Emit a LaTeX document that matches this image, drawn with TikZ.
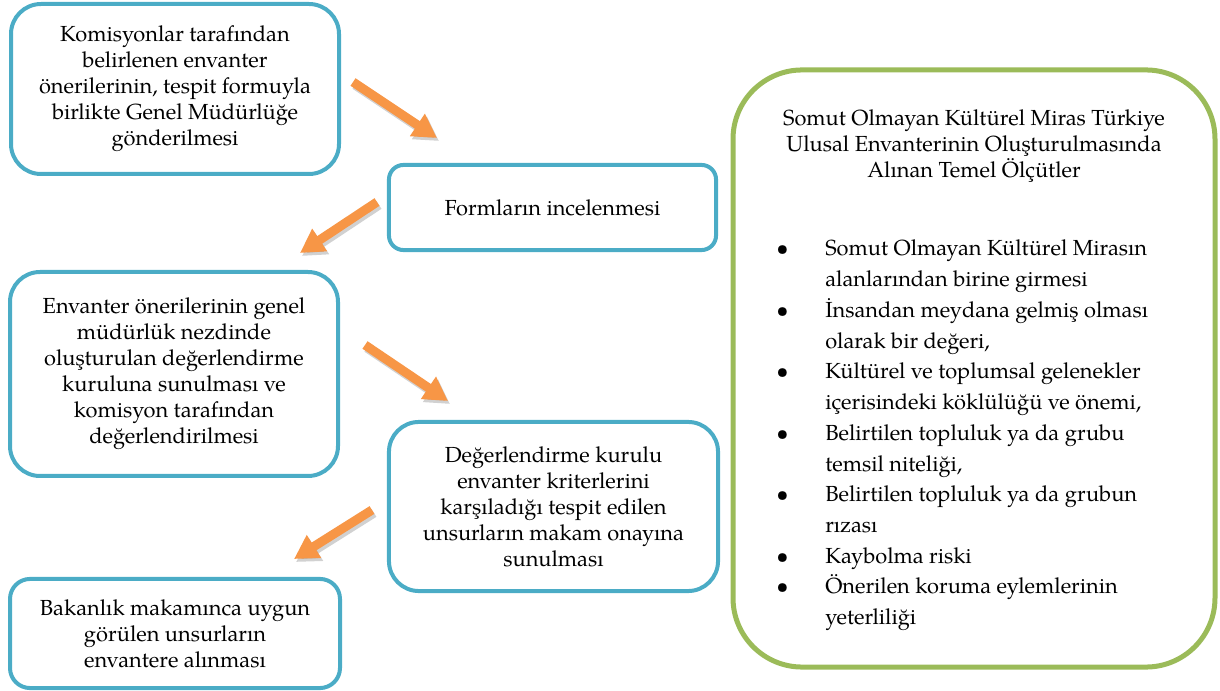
\documentclass[tikz,border=0pt]{standalone}
\usepackage{fontspec}
\setmainfont{TeX Gyre Pagella}
\usepackage{tikz}
\usetikzlibrary{arrows.meta}
\definecolor{boxblue}{HTML}{4BACC6}
\definecolor{boxgreen}{HTML}{9BBB59}
\definecolor{arroworange}{HTML}{F79646}

\begin{document}
\begin{tikzpicture}[x=0.55pt,y=-0.55pt,
  stepbox/.style={draw=boxblue, line width=2.2pt, rounded corners=16.5pt, align=center, inner sep=0pt, font=\fontsize{12}{14.3}\selectfont},
  flowarrow/.style={draw=arroworange, line width=5pt, -{Triangle[length=13pt,width=14pt]}},
  flowshadow/.style={draw=black, opacity=0.18, line width=5pt, -{Triangle[length=13pt,width=14pt]}}]
\useasboundingbox (0,0) rectangle (1220,691);

\node (b1) [stepbox, minimum width=180.4pt, minimum height=93.5pt] at (175,89) {Komisyonlar tarafından\\belirlenen envanter\\önerilerinin, tespit formuyla\\birlikte Genel Müdürlüğe\\gönderilmesi};
\node (b2) [stepbox, rounded corners=8pt, minimum width=179.9pt, minimum height=46.8pt] at (552.5,207.5) {Formların incelenmesi};
\node (b3) [stepbox, minimum width=180.4pt, minimum height=112.2pt] at (174,374) {Envanter önerilerinin genel\\müdürlük nezdinde\\oluşturulan değerlendirme\\kuruluna sunulması ve\\komisyon tarafından\\değerlendirilmesi};
\node (b4) [stepbox, minimum width=181pt, minimum height=93pt] at (553.5,506.5) {Değerlendirme kurulu\\envanter kriterlerini\\karşıladığı tespit edilen\\unsurların makam onayına\\sunulması};
\node (b5) [stepbox, rounded corners=11pt, minimum width=181.5pt, minimum height=60pt] at (175,633.5) {Bakanlık makamınca uygun\\görülen unsurların\\envantere alınması};

\node (crit) [draw=boxgreen, line width=2.75pt, rounded corners=38pt, minimum width=265.1pt, minimum height=328.4pt] at (974,368.5) {};
\node (crittitle) [align=center, font=\fontsize{12}{14.3}\selectfont] at (974,146) {Somut Olmayan Kültürel Miras Türkiye\\Ulusal Envanterinin Oluşturulmasında\\Alınan Temel Ölçütler};
\node (critlist) [anchor=base west, inner sep=0pt, font=\fontsize{12}{16.9}\selectfont] at (776,256) {%
\begin{tabular}[t]{@{}p{26.9pt}@{}l@{}}
\textbullet & Somut Olmayan Kültürel Mirasın\\
 & alanlarından birine girmesi\\
\textbullet & İnsandan meydana gelmiş olması\\
 & olarak bir değeri,\\
\textbullet & Kültürel ve toplumsal gelenekler\\
 & içerisindeki köklülüğü ve önemi,\\
\textbullet & Belirtilen topluluk ya da grubu\\
 & temsil niteliği,\\
\textbullet & Belirtilen topluluk ya da grubun\\
 & rızası\\
\textbullet & Kaybolma riski\\
\textbullet & Önerilen koruma eylemlerinin\\
 & yeterliliği
\end{tabular}};

\coordinate (a1s) at (353,82);
\coordinate (a1e) at (437,138);
\coordinate (a2s) at (377,202);
\coordinate (a2e) at (300,253);
\coordinate (a3s) at (365,345);
\coordinate (a3e) at (448,401);
\coordinate (a4s) at (372,510);
\coordinate (a4e) at (294,559);
\foreach \s/\e in {a1s/a1e, a2s/a2e, a3s/a3e, a4s/a4e} {
  \draw [flowshadow] ([shift={(2,3)}]\s) -- ([shift={(2,3)}]\e);
  \draw [flowarrow] (\s) -- (\e);
}
\end{tikzpicture}
\end{document}
